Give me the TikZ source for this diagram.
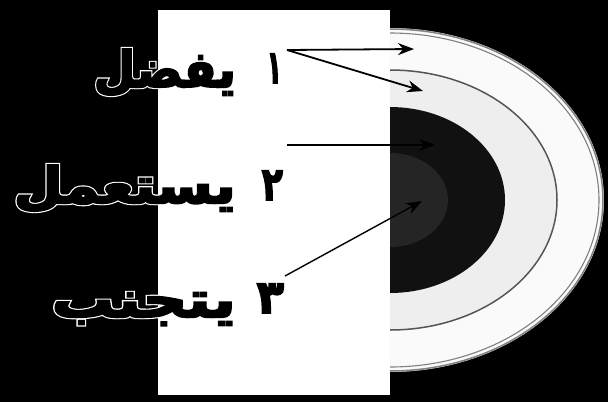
\documentclass[tikz,border=0pt]{standalone}
\usepackage{fontspec}
\usepackage{graphicx}
\usetikzlibrary{arrows.meta}
\TeXXeTstate=1
\newfontfamily\arabicfill[Script=Arabic, FakeBold=4]{DejaVu Sans Bold}
\newfontfamily\arabicedge[Script=Arabic, FakeBold=8.5]{DejaVu Sans Bold}
\definecolor{ringouter}{HTML}{FAFAFA}
\definecolor{ringsecond}{HTML}{EEEEEE}
\definecolor{ringblack}{HTML}{111111}
\definecolor{ringcore}{HTML}{252525}
\definecolor{ringline}{HTML}{555555}
% outlined label: white thick copy under black copy, stretched to a width
\newcommand{\arlabel}[2]{\resizebox{#1}{\height}{%
  \rlap{\color{white}\arabicedge\beginR #2\endR}%
  {\color{black}\arabicfill\beginR #2\endR}}}
\begin{document}
\begin{tikzpicture}[x=1pt,y=-1pt,
  lbl/.style={inner sep=0pt, font=\fontsize{50}{56}\selectfont},
  dig/.style={inner sep=0pt, font=\fontsize{46}{52}\selectfont},
  arr/.style={-{Stealth[length=16pt,width=12pt]}, line width=1.8pt, black},
  thinarr/.style={arr, line width=1.2pt}]
\useasboundingbox (0,0) rectangle (608,402);
\fill[black] (0,0) rectangle (608,402);
\fill[white] (158,10) rectangle (390,395);
\begin{scope}
  \clip (390,0) rectangle (608,402);
  \fill[ringouter] (390,200) ellipse [x radius=214, y radius=172];
  \draw[gray, line width=1.5pt] (390,200) ellipse [x radius=213, y radius=171];
  \draw[gray, line width=1.1pt] (390,200) ellipse [x radius=209, y radius=167];
  \fill[ringsecond] (390,200) ellipse [x radius=167, y radius=130];
  \draw[ringline, line width=1.5pt] (390,200) ellipse [x radius=167, y radius=130];
  \fill[ringblack] (390,200) ellipse [x radius=115, y radius=93];
  \fill[ringcore] (390,200) ellipse [x radius=58, y radius=47];
\end{scope}
% labels
\node[dig, anchor=base east] (d1) at (282,83) {\arlabel{15pt}{١}};
\node[lbl, anchor=base east] (w1) at (236,87) {\arlabel{142pt}{يفضل}};
\node[dig, anchor=base east] (d2) at (283,200) {\arlabel{21pt}{٢}};
\node[lbl, anchor=base east] (w2) at (236,203) {\arlabel{222pt}{يستعمل}};
\node[dig, anchor=base east] (d3) at (284,313) {\arlabel{27pt}{٣}};
\node[lbl, anchor=base east] (w3) at (236,317) {\arlabel{184pt}{يتجنب}};
% arrow ends
\coordinate (s1) at (287,50);
\coordinate (t1a) at (414,49);
\coordinate (t1b) at (423,91);
\coordinate (s2) at (287,145);
\coordinate (t2) at (435,145);
\coordinate (s3) at (285,276);
\coordinate (t3) at (422,201);
\draw[arr] (s1) -- (t1a);
\draw[arr] (s1) -- (t1b);
\draw[thinarr] (s2) -- (t2);
\draw[arr, line width=1.4pt] (s3) -- (t3);
\end{tikzpicture}
\end{document}
